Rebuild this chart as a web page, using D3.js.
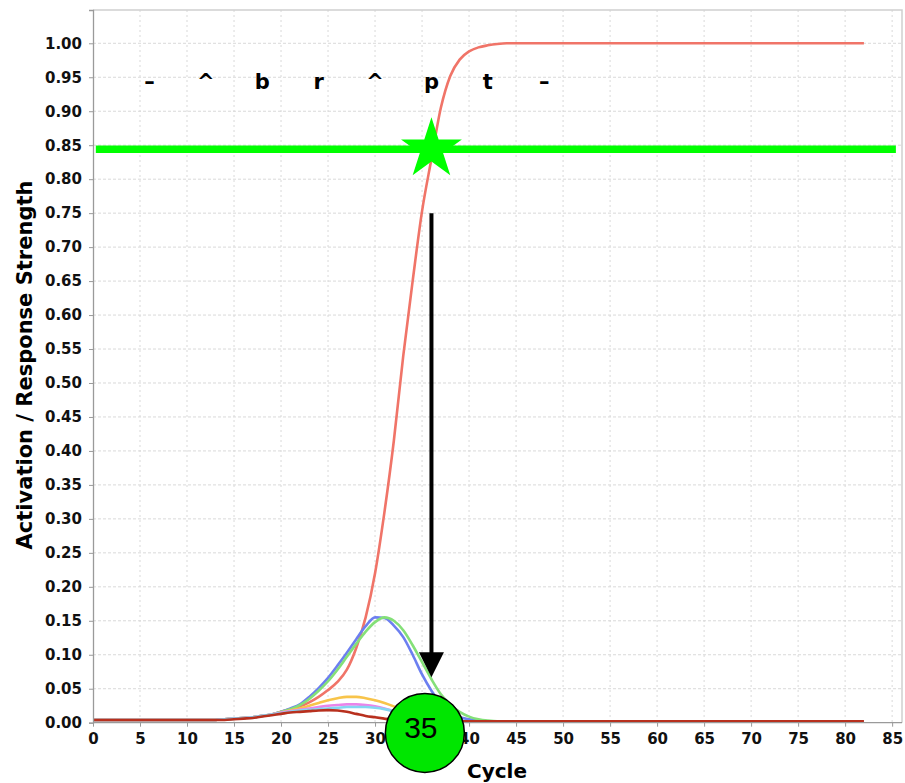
<!DOCTYPE html>
<html>
<head>
<meta charset="utf-8">
<script src="https://cdn.jsdelivr.net/npm/d3@7"></script>
<style>
  body { margin: 0; background: #fff; }
  svg { display: block; }
</style>
</head>
<body>
<div id="main"></div>
<script>
// cycle positions shared by every series
var cycles = [0, 4, 8, 12,
  13, 14, 15, 16, 17, 18, 19, 20, 21, 22, 23, 24, 25, 26, 27, 28, 29, 30,
  31, 32, 33, 34, 35, 36, 37, 38, 39, 40, 41, 42, 43, 44, 45, 46,
  50, 55, 60, 65, 70, 75, 80, 82];

// response strength (red) and the word activations
var responseValues = [0.004, 0.004, 0.004, 0.004,
  0.004, 0.005, 0.006, 0.007, 0.008, 0.010, 0.012, 0.016, 0.020, 0.024, 0.030, 0.038, 0.048, 0.060, 0.078, 0.110, 0.155, 0.220,
  0.310, 0.415, 0.540, 0.650, 0.753, 0.830, 0.905, 0.952, 0.976, 0.988, 0.994, 0.997, 0.999, 1.000, 1.000, 1.000,
  1.000, 1.000, 1.000, 1.000, 1.000, 1.000, 1.000, 1.000];
var blueValues = [0.004, 0.004, 0.004, 0.004,
  0.004, 0.005, 0.006, 0.007, 0.008, 0.010, 0.012, 0.016, 0.021, 0.027, 0.038, 0.051, 0.066, 0.084, 0.103, 0.123, 0.142, 0.155,
  0.154, 0.143, 0.126, 0.100, 0.071, 0.047, 0.028, 0.014, 0.008, 0.005, 0.003, 0.002, 0.002, 0.002, 0.002, 0.002,
  0.002, 0.002, 0.002, 0.002, 0.002, 0.002, 0.002, 0.002];
var greenValues = [0.004, 0.004, 0.004, 0.004,
  0.004, 0.005, 0.006, 0.007, 0.008, 0.010, 0.012, 0.016, 0.020, 0.026, 0.035, 0.047, 0.061, 0.078, 0.097, 0.116, 0.134, 0.148,
  0.155, 0.150, 0.136, 0.114, 0.089, 0.064, 0.042, 0.027, 0.016, 0.009, 0.005, 0.003, 0.002, 0.002, 0.002, 0.002,
  0.002, 0.002, 0.002, 0.002, 0.002, 0.002, 0.002, 0.002];
var orangeValues = [0.004, 0.004, 0.004, 0.004,
  0.004, 0.005, 0.006, 0.007, 0.008, 0.010, 0.012, 0.015, 0.018, 0.021, 0.025, 0.029, 0.033, 0.036, 0.038, 0.038, 0.036, 0.033,
  0.029, 0.024, 0.018, 0.012, 0.008, 0.005, 0.003, 0.002, 0.002, 0.002, 0.002, 0.002, 0.002, 0.002, 0.002, 0.002,
  0.002, 0.002, 0.002, 0.002, 0.002, 0.002, 0.002, 0.002];
var pinkValues = [0.004, 0.004, 0.004, 0.004,
  0.004, 0.005, 0.006, 0.007, 0.008, 0.010, 0.012, 0.015, 0.017, 0.019, 0.021, 0.023, 0.025, 0.026, 0.027, 0.027, 0.026, 0.024,
  0.021, 0.017, 0.013, 0.009, 0.006, 0.004, 0.003, 0.002, 0.002, 0.002, 0.002, 0.002, 0.002, 0.002, 0.002, 0.002,
  0.002, 0.002, 0.002, 0.002, 0.002, 0.002, 0.002, 0.002];
var cyanValues = [0.004, 0.004, 0.004, 0.004,
  0.004, 0.005, 0.006, 0.007, 0.008, 0.010, 0.012, 0.014, 0.016, 0.018, 0.019, 0.020, 0.021, 0.022, 0.023, 0.023, 0.023, 0.022,
  0.020, 0.017, 0.013, 0.009, 0.006, 0.004, 0.003, 0.002, 0.002, 0.002, 0.002, 0.002, 0.002, 0.002, 0.002, 0.002,
  0.002, 0.002, 0.002, 0.002, 0.002, 0.002, 0.002, 0.002];
var darkRedValues = [0.004, 0.004, 0.004, 0.004,
  0.004, 0.004, 0.005, 0.006, 0.007, 0.009, 0.011, 0.013, 0.015, 0.016, 0.017, 0.018, 0.0185, 0.018, 0.016, 0.013, 0.010, 0.008,
  0.006, 0.004, 0.003, 0.002, 0.002, 0.002, 0.002, 0.002, 0.002, 0.002, 0.002, 0.002, 0.002, 0.002, 0.002, 0.002,
  0.002, 0.002, 0.002, 0.002, 0.002, 0.002, 0.002, 0.002];

// phoneme labels along the top
var phonemes = ["\u2013", "^", "b", "r", "^", "p", "t", "\u2013"];
var phonemeCycles = [6, 12, 18, 24, 30, 36, 42, 48];
var phonemeLevel = 0.932;

// ticks
var xTicks = d3.range(0, 86, 5);
var yTicks = d3.range(0, 21).map(function(i) { return i * 0.05; });

// annotations
var thresholdValue = 0.844;
var thresholdSpan = [0.3, 85.4];
var starPoint = [36, 0.844];
var arrowCycle = 36;
var arrowFrom = 0.75;
var arrowTo = 0.067;
var circlePoint = [35.3, -0.015];
var circleLabel = "35";

var ctx = {
    w: 905,
    h: 783,
    left: 93,
    right: 902,
    top: 10,
    bottom: 722.7,
    font: "'DejaVu Sans', Verdana, sans-serif"
};

var svg = d3.select("#main").append("svg")
    .attr("width", ctx.w)
    .attr("height", ctx.h);

var x = d3.scaleLinear().domain([0, 86.05]).range([ctx.left, ctx.right]);
var y = d3.scaleLinear().domain([0, 1.049]).range([ctx.bottom, ctx.top]);

// gridlines
var grid = svg.append("g");
grid.selectAll("line.h")
    .data(yTicks.slice(1))
    .enter().append("line")
    .attr("x1", ctx.left).attr("x2", ctx.right)
    .attr("y1", function(d) { return y(d); })
    .attr("y2", function(d) { return y(d); })
    .style("stroke", "#d9d9d9")
    .style("stroke-dasharray", "3,2");
grid.selectAll("line.v")
    .data(xTicks.slice(1))
    .enter().append("line")
    .attr("y1", ctx.top).attr("y2", ctx.bottom)
    .attr("x1", function(d) { return x(d); })
    .attr("x2", function(d) { return x(d); })
    .style("stroke", "#d9d9d9")
    .style("stroke-dasharray", "2,3");

// plot border (top and right)
svg.append("path")
    .attr("d", "M" + ctx.left + "," + ctx.top + "H" + ctx.right + "V" + ctx.bottom)
    .style("fill", "none")
    .style("stroke", "#cfcfcf")
    .style("stroke-width", 1.5);

// series
var series = [
    { values: responseValues, color: "#f07468" },
    { values: blueValues, color: "#6c7ff0" },
    { values: greenValues, color: "#84e078" },
    { values: orangeValues, color: "#f8c44a" },
    { values: pinkValues, color: "#ea84ea" },
    { values: cyanValues, color: "#84d6f2" },
    { values: darkRedValues, color: "#b8301e" }
];
var line = d3.line()
    .x(function(d, i) { return x(cycles[i]); })
    .y(function(d) { return y(d); })
    .curve(d3.curveMonotoneX);
svg.append("g").selectAll("path")
    .data(series)
    .enter().append("path")
    .attr("d", function(s) { return line(s.values); })
    .style("fill", "none")
    .style("stroke", function(s) { return s.color; })
    .style("stroke-width", 2.6)
    .style("stroke-linejoin", "round");

// axes
var yAxis = svg.append("g")
    .attr("transform", "translate(" + ctx.left + ",0)")
    .call(d3.axisLeft(y).tickValues(yTicks).tickFormat(d3.format(".2f")).tickSize(4).tickPadding(7));
var xAxis = svg.append("g")
    .attr("transform", "translate(0," + ctx.bottom + ")")
    .call(d3.axisBottom(x).tickValues(xTicks).tickSize(4).tickPadding(7));
[xAxis, yAxis].forEach(function(a) {
    a.select(".domain").style("stroke", "#9a9a9a").style("stroke-width", 1.3);
    a.selectAll(".tick line").style("stroke", "#9a9a9a");
    a.selectAll(".tick text")
        .style("font-family", ctx.font)
        .style("font-weight", "bold")
        .style("font-size", "15px")
        .style("fill", "#111");
});
// keep the bottom axis line to the plot width
xAxis.select(".domain").attr("d", "M" + ctx.left + ",0H" + ctx.right);

// axis titles
svg.append("text")
    .attr("x", 497)
    .attr("y", 778)
    .attr("text-anchor", "middle")
    .style("font-family", ctx.font)
    .style("font-weight", "bold")
    .style("font-size", "20px")
    .text("Cycle");
svg.append("text")
    .attr("transform", "translate(32,365) rotate(-90)")
    .attr("text-anchor", "middle")
    .style("font-family", ctx.font)
    .style("font-weight", "bold")
    .style("font-size", "21px")
    .text("Activation / Response Strength");

// phoneme labels
svg.append("g").selectAll("text")
    .data(phonemes)
    .enter().append("text")
    .attr("x", function(d, i) { return x(phonemeCycles[i]); })
    .attr("y", y(phonemeLevel))
    .attr("text-anchor", "middle")
    .style("font-family", ctx.font)
    .style("font-weight", "bold")
    .style("font-size", "21px")
    .text(function(d) { return d; });

// threshold line
svg.append("line")
    .attr("x1", x(thresholdSpan[0])).attr("x2", x(thresholdSpan[1]))
    .attr("y1", y(thresholdValue)).attr("y2", y(thresholdValue))
    .style("stroke", "#00ff00")
    .style("stroke-width", 7.5);

// star where response crosses threshold
svg.append("path")
    .attr("d", d3.symbol(d3.symbolStar, 1150)())
    .attr("transform", "translate(" + x(starPoint[0]) + "," + y(starPoint[1]) + ")")
    .style("fill", "#00ff00");

// arrow down to the cycle axis
svg.append("line")
    .attr("x1", x(arrowCycle)).attr("x2", x(arrowCycle))
    .attr("y1", y(arrowFrom)).attr("y2", y(arrowTo) - 20)
    .style("stroke", "#000")
    .style("stroke-width", 4);
var ax = x(arrowCycle), ay = y(arrowTo);
svg.append("path")
    .attr("d", "M" + (ax - 12.5) + "," + (ay - 25) + "L" + (ax + 12.5) + "," + (ay - 25) + "L" + ax + "," + ay + "Z")
    .style("fill", "#000");

// circle with cycle number (covers the tick labels under it, as in the original)
svg.append("circle")
    .attr("cx", x(circlePoint[0]))
    .attr("cy", y(circlePoint[1]))
    .attr("r", 39.5)
    .style("fill", "#00e600")
    .style("stroke", "#000")
    .style("stroke-width", 1.5);
svg.append("text")
    .attr("x", x(circlePoint[0]) - 4)
    .attr("y", y(circlePoint[1]) + 5)
    .attr("text-anchor", "middle")
    .style("font-family", "'Liberation Sans', Arial, sans-serif")
    .style("font-size", "30px")
    .style("fill", "#000")
    .text(circleLabel);
// the tick label hidden under the circle is not shown
xAxis.selectAll(".tick text").filter(function(d) { return d === 35; }).style("opacity", 0);
</script>
</body>
</html>
